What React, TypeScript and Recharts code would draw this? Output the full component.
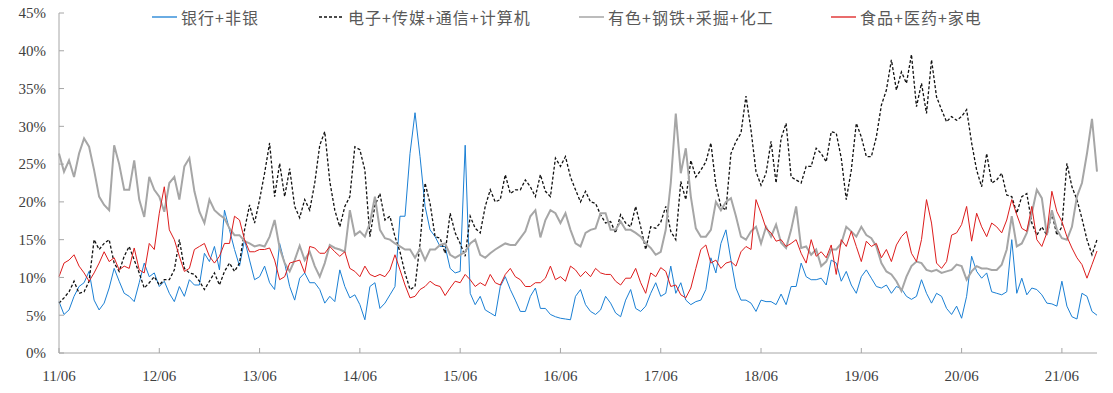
import { LineChart, Line, XAxis, YAxis } from "recharts";

// one point every 0.05 year, starting 2011/06
const STEP = 0.05;
const YEAR_TICKS = [0, 1, 2, 3, 4, 5, 6, 7, 8, 9, 10];
const Y_TICKS = [0, 5, 10, 15, 20, 25, 30, 35, 40, 45];

// 银行+非银
const bankNonbank = [
  6.8, 5.1, 5.7, 7.5, 8.8, 9.3, 10.8, 7.0, 5.7, 6.6, 8.6, 11.2, 9.5, 7.9, 7.5, 6.8, 9.3, 11.9, 10.1, 10.6, 8.8, 9.5, 7.9, 6.8, 8.8,
  7.5, 9.7, 9.0, 9.0, 13.2, 12.1, 14.1, 11.0, 18.9, 16.3, 13.7, 11.5, 15.0, 12.3, 9.7, 10.1, 11.5, 9.3, 8.4, 14.5, 11.9, 8.8, 7.0, 9.9,
  10.6, 9.3, 9.3, 8.4, 6.6, 7.5, 6.8, 11.0, 8.8, 7.3, 7.7, 6.4, 4.4, 8.8, 9.3, 5.9, 6.6, 7.7, 8.8, 18.1, 18.1, 26.4, 31.8, 26.0,
  19.4, 16.3, 15.4, 14.1, 14.1, 11.2, 10.6, 10.8, 27.5, 7.9, 6.4, 7.5, 5.7, 5.3, 4.9, 8.8, 10.1, 8.4, 7.0, 5.5, 5.5, 7.5, 8.6, 5.9,
  5.9, 5.1, 4.8, 4.6, 4.5, 4.4, 7.5, 8.4, 6.4, 5.5, 5.1, 5.7, 7.5, 6.6, 5.3, 4.8, 7.0, 8.4, 5.9, 5.5, 6.2, 7.9, 9.3, 7.5,
  7.9, 11.5, 7.9, 9.3, 7.0, 6.4, 6.8, 7.0, 8.4, 12.6, 10.6, 14.5, 16.3, 12.3, 8.6, 7.0, 7.0, 6.6, 5.5, 7.0, 6.8, 6.8, 6.4, 7.8,
  6.4, 8.8, 8.8, 11.9, 10.1, 9.7, 9.7, 9.9, 9.0, 12.3, 11.9, 9.5, 10.8, 9.0, 7.9, 10.1, 11.0, 9.9, 8.8, 8.6, 9.0, 7.9, 8.8, 8.5,
  7.5, 7.1, 7.5, 9.7, 7.9, 6.6, 7.9, 7.5, 5.9, 5.1, 6.2, 4.6, 7.5, 12.8, 10.8, 9.9, 10.6, 8.1, 7.9, 7.7, 8.1, 15.0, 7.9, 9.9,
  7.7, 8.6, 8.4, 7.7, 6.6, 6.5, 6.2, 9.5, 6.2, 4.8, 4.5, 7.9, 7.5, 5.5, 5.0,
];

// 电子+传媒+通信+计算机
const techMedia = [
  6.6, 7.3, 8.1, 9.5, 7.9, 8.1, 9.5, 15.0, 13.7, 14.5, 15.0, 11.9, 10.8, 12.8, 14.1, 12.3, 10.6, 8.6, 9.3, 10.1, 9.0, 9.7, 9.7, 11.0, 15.0,
  11.2, 10.6, 10.4, 9.5, 8.4, 9.5, 10.6, 9.0, 10.8, 11.9, 10.8, 11.9, 16.3, 19.6, 17.2, 20.3, 23.8, 27.8, 20.7, 25.1, 20.7, 24.4, 19.4, 17.9,
  20.3, 18.9, 22.5, 27.5, 29.3, 22.7, 18.9, 16.7, 19.4, 20.7, 27.3, 26.9, 24.2, 15.4, 19.5, 21.1, 17.6, 18.1, 15.4, 13.4, 10.6, 8.4, 8.8, 14.5,
  22.5, 19.8, 15.4, 15.2, 13.2, 18.5, 15.9, 14.5, 12.8, 18.1, 16.5, 15.9, 19.4, 21.6, 20.0, 20.3, 23.6, 21.1, 21.6, 21.6, 22.9, 22.0, 20.7, 23.6,
  21.4, 20.7, 25.8, 24.7, 26.0, 23.3, 21.6, 20.0, 21.4, 20.0, 19.8, 18.3, 17.2, 17.4, 15.9, 18.3, 17.2, 16.7, 19.4, 16.7, 13.7, 16.7, 16.5, 17.3,
  19.4, 16.1, 15.0, 22.7, 20.3, 25.5, 23.3, 24.2, 25.3, 27.8, 22.2, 19.4, 18.9, 26.4, 28.0, 29.1, 34.0, 29.5, 24.0, 22.2, 23.8, 28.0, 22.5, 28.4,
  30.4, 23.3, 22.9, 22.5, 24.7, 24.7, 27.1, 26.4, 25.3, 29.3, 29.1, 25.8, 20.3, 24.2, 30.4, 28.6, 26.0, 26.0, 28.6, 32.8, 34.8, 38.8, 34.8, 37.2,
  35.7, 39.5, 32.6, 35.7, 31.7, 38.8, 33.9, 32.2, 30.6, 31.3, 30.8, 31.3, 32.2, 27.8, 24.2, 22.0, 26.4, 22.5, 22.9, 23.8, 20.9, 20.7, 18.5, 20.7,
  21.1, 17.2, 15.6, 16.7, 15.6, 18.5, 15.6, 16.7, 25.1, 22.0, 20.3, 17.8, 15.0, 13.0, 15.0,
];

// 有色+钢铁+采掘+化工
const materials = [
  26.4, 24.0, 25.5, 23.3, 26.4, 28.4, 27.3, 24.2, 20.7, 19.6, 18.9, 27.5, 25.0, 21.6, 21.6, 25.5, 20.3, 18.0, 23.3, 21.6, 20.7, 18.7, 22.5, 23.3, 20.3,
  24.7, 25.8, 21.4, 18.7, 17.2, 20.3, 18.9, 18.3, 17.8, 16.5, 15.6, 15.6, 14.8, 14.5, 14.1, 14.3, 14.1, 15.4, 17.6, 13.9, 11.9, 10.8, 12.3, 14.2,
  12.3, 13.4, 11.5, 10.1, 11.9, 14.3, 13.9, 13.7, 13.4, 18.9, 15.6, 16.1, 15.4, 17.2, 20.7, 16.3, 15.2, 15.0, 14.5, 14.1, 13.7, 13.7, 12.6, 13.8,
  12.3, 13.7, 13.7, 14.3, 14.5, 13.0, 12.6, 13.0, 13.4, 14.5, 15.0, 13.0, 12.6, 13.2, 13.7, 14.1, 14.5, 14.3, 14.3, 15.2, 16.1, 18.1, 18.9, 15.3,
  17.6, 18.9, 18.5, 17.2, 18.5, 16.3, 14.5, 14.1, 15.9, 16.3, 16.5, 18.5, 18.5, 16.3, 16.3, 17.4, 16.3, 16.3, 15.9, 15.4, 14.5, 13.9, 13.0, 13.4,
  16.3, 22.5, 31.7, 23.8, 27.1, 20.7, 16.5, 15.4, 15.4, 16.3, 20.0, 18.9, 20.0, 20.5, 18.1, 15.4, 15.0, 16.1, 16.7, 14.5, 16.7, 15.4, 17.0, 14.6,
  13.9, 16.3, 19.4, 13.9, 14.1, 13.0, 13.7, 11.5, 12.1, 13.7, 13.7, 14.5, 16.7, 16.1, 15.4, 16.7, 15.6, 15.2, 14.1, 11.9, 10.8, 10.4, 9.5, 8.2,
  10.1, 11.5, 12.1, 11.9, 11.0, 10.8, 11.0, 10.6, 10.8, 11.0, 11.7, 11.5, 9.7, 10.8, 11.5, 11.2, 11.2, 11.0, 11.0, 11.7, 13.7, 18.1, 14.1, 14.5,
  15.9, 18.5, 21.6, 20.5, 15.6, 18.9, 16.3, 15.2, 15.0, 16.7, 20.7, 22.5, 26.4, 31.0, 24.0,
];

// 食品+医药+家电
const consumer = [
  10.1, 11.9, 12.3, 13.0, 11.5, 10.6, 9.5, 10.6, 11.9, 13.4, 12.1, 12.6, 11.0, 11.5, 11.2, 13.9, 11.0, 10.6, 14.5, 13.7, 18.5, 22.0, 16.3, 15.0, 12.8,
  10.8, 11.2, 13.7, 14.1, 14.5, 12.8, 11.9, 12.8, 14.5, 14.5, 18.1, 17.6, 15.0, 13.4, 13.4, 13.7, 13.7, 13.9, 12.3, 9.7, 10.1, 11.9, 12.1, 12.3,
  10.6, 14.1, 13.9, 13.2, 13.2, 14.1, 13.4, 12.8, 13.4, 11.2, 10.8, 10.1, 11.5, 10.4, 10.1, 10.4, 10.1, 11.0, 13.0, 11.0, 9.0, 7.3, 7.5, 8.4,
  8.8, 9.5, 9.0, 8.8, 7.6, 8.6, 9.5, 9.3, 10.4, 9.7, 8.8, 9.3, 8.9, 10.4, 9.3, 9.0, 10.4, 11.2, 10.1, 9.7, 8.8, 8.8, 9.3, 9.3,
  9.9, 11.5, 9.7, 10.1, 9.5, 11.5, 11.0, 10.1, 10.8, 10.1, 11.2, 10.6, 10.4, 10.4, 9.5, 9.0, 9.9, 9.9, 11.2, 9.3, 7.9, 10.6, 10.1, 11.3,
  10.8, 8.8, 9.0, 7.7, 7.3, 8.6, 11.2, 13.7, 14.3, 11.9, 12.3, 11.2, 11.9, 12.1, 11.5, 13.4, 14.1, 13.7, 20.3, 18.5, 16.5, 15.9, 14.8, 15.0,
  14.1, 14.5, 15.0, 13.2, 11.9, 15.0, 12.8, 13.4, 12.6, 14.3, 10.4, 15.0, 14.1, 16.1, 14.1, 12.1, 14.8, 14.1, 14.5, 12.6, 13.7, 12.1, 14.3, 15.4,
  16.1, 13.2, 12.1, 15.0, 20.3, 17.2, 11.9, 11.2, 12.1, 15.6, 15.9, 17.0, 19.4, 14.8, 18.5, 16.7, 15.4, 17.2, 16.7, 15.9, 17.6, 20.3, 18.3, 16.5,
  16.1, 19.4, 15.0, 14.1, 15.9, 21.4, 18.7, 17.4, 15.4, 13.9, 12.6, 11.7, 9.9, 11.7, 13.5,
];

const SERIES = [
  { key: "bank", name: "银行+非银", color: "#1a7fd4", width: 1, dash: undefined },
  { key: "tech", name: "电子+传媒+通信+计算机", color: "#111111", width: 1.3, dash: "3 2" },
  { key: "mat", name: "有色+钢铁+采掘+化工", color: "#a6a6a6", width: 2, dash: undefined },
  { key: "cons", name: "食品+医药+家电", color: "#dd1c1c", width: 1, dash: undefined },
];

// where each legend entry starts (px from the left edge)
const LEGEND_X = [152, 319, 579, 831];

const data = bankNonbank.map((v, i) => ({
  t: i * STEP,
  bank: v,
  tech: techMedia[i],
  mat: materials[i],
  cons: consumer[i],
}));

const AXIS = "#a6a6a6";
const tickFont = {
  fontFamily: '"Liberation Serif", "Times New Roman", serif',
  fontSize: 15,
  fill: "#404040",
};

export default function App() {
  return (
    <div
      style={{
        position: "relative",
        width: 1113,
        height: 393,
        margin: "-8px 0 0 -8px",
        background: "#fff",
      }}
    >
      <LineChart
        width={1113}
        height={393}
        data={data}
        margin={{ top: 13, right: 16, bottom: 10, left: 9 }}
      >
        <XAxis
          dataKey="t"
          type="number"
          domain={[0, 10.35]}
          ticks={YEAR_TICKS}
          tickFormatter={(v: number) => `${11 + v}/06`}
          height={30}
          stroke={AXIS}
          tickSize={-5}
          tickMargin={22}
          tick={tickFont}
          interval={0}
        />
        <YAxis
          type="number"
          domain={[0, 45]}
          ticks={Y_TICKS}
          tickFormatter={(v: number) => `${v}%`}
          width={50}
          stroke={AXIS}
          tickSize={-5}
          tickMargin={18}
          tick={tickFont}
          interval={0}
        />
        {SERIES.map((s) => (
          <Line
            key={s.key}
            type="linear"
            dataKey={s.key}
            name={s.name}
            stroke={s.color}
            strokeWidth={s.width}
            strokeDasharray={s.dash}
            dot={false}
            activeDot={false}
            isAnimationActive={false}
          />
        ))}
      </LineChart>

      {SERIES.map((s, i) => (
        <div
          key={s.key}
          style={{
            position: "absolute",
            left: LEGEND_X[i],
            top: 6,
            height: 22,
            display: "flex",
            alignItems: "center",
            fontFamily: '"Noto Sans CJK SC", sans-serif',
            fontSize: 16,
            letterSpacing: 1,
            color: "#595959",
            whiteSpace: "nowrap",
          }}
        >
          <svg width={27} height={4} style={{ marginRight: 2 }}>
            <line
              x1={0}
              y1={2}
              x2={25}
              y2={2}
              stroke={s.color}
              strokeWidth={s.key === "mat" ? 1.5 : 1.3}
              strokeDasharray={s.dash}
            />
          </svg>
          {s.name}
        </div>
      ))}
    </div>
  );
}
